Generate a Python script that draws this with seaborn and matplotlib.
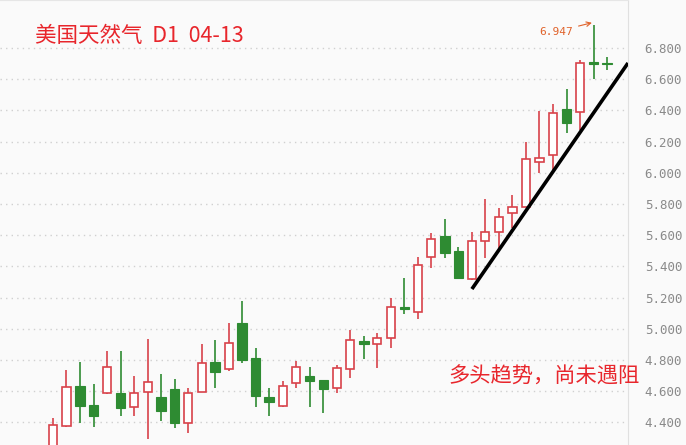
import numpy as np
import pandas as pd
import matplotlib
matplotlib.use("Agg")
import matplotlib.pyplot as plt
import seaborn as sns

# daily OHLC (oldest -> newest)
opens = [4.22, 4.377, 4.633, 4.512, 4.588, 4.588, 4.499, 4.595, 4.563, 4.614,
         4.396, 4.595, 4.787, 4.742, 5.037, 4.813, 4.563, 4.505, 4.653, 4.697,
         4.672, 4.620, 4.742, 4.922, 4.903, 4.941, 5.140, 5.108, 5.460, 5.595,
         5.499, 5.319, 5.563, 5.621, 5.742, 5.781, 6.069, 6.114, 6.409, 6.390,
         6.710, 6.705]
highs = [4.428, 4.736, 4.787, 4.646, 4.858, 4.858, 4.697, 4.935, 4.710, 4.678,
         4.620, 4.903, 4.928, 5.037, 5.178, 4.877, 4.620, 4.665, 4.794, 4.755,
         4.672, 4.768, 4.992, 4.954, 4.973, 5.197, 5.326, 5.460, 5.614, 5.704,
         5.524, 5.621, 5.832, 5.774, 5.858, 6.197, 6.396, 6.441, 6.537, 6.723,
         6.947, 6.742]
lows = [4.20, 4.371, 4.396, 4.371, 4.582, 4.441, 4.441, 4.294, 4.409, 4.364,
        4.332, 4.595, 4.620, 4.729, 4.781, 4.499, 4.441, 4.499, 4.620, 4.499,
        4.460, 4.588, 4.685, 4.806, 4.749, 4.877, 5.095, 5.063, 5.390, 5.454,
        5.319, 5.313, 5.454, 5.505, 5.646, 5.781, 6.000, 6.018, 6.255, 6.274,
        6.601, 6.659]
closes = [4.383, 4.627, 4.505, 4.441, 4.755, 4.492, 4.588, 4.659, 4.473, 4.396,
          4.588, 4.781, 4.723, 4.909, 4.800, 4.569, 4.531, 4.633, 4.755, 4.665,
          4.614, 4.749, 4.928, 4.903, 4.941, 5.140, 5.128, 5.409, 5.576, 5.486,
          5.326, 5.563, 5.621, 5.717, 5.781, 6.088, 6.095, 6.383, 6.319, 6.704,
          6.700, 6.695]

y_ticks = [4.4, 4.6, 4.8, 5.0, 5.2, 5.4, 5.6, 5.8, 6.0, 6.2, 6.4, 6.6, 6.8]
trend_x = [31.0, 42.55]
trend_y = [5.255, 6.704]
title_text = "美国天然气  D1  04-13"
note_text = "多头趋势，尚未遇阻"
peak_label = "6.947"

df = pd.DataFrame({"open": opens, "high": highs, "low": lows, "close": closes})
df["idx"] = np.arange(len(df))
df["up"] = df["close"] >= df["open"]

sns.set_style("white")
plt.rcParams["font.family"] = ["Noto Sans CJK SC", "DejaVu Sans"]

RED = "#d8424a"
GREEN = "#2e8b32"
BG = "#fafafa"

fig = plt.figure(figsize=(6.86, 4.45), dpi=100, facecolor=BG)
ax = fig.add_axes([0, 0, 628 / 686, 1])
ax.set_facecolor(BG)

# wicks
for up, col in [(True, RED), (False, GREEN)]:
    sub = df[df["up"] == up]
    ax.vlines(sub["idx"], sub["low"], sub["high"], color=col, lw=1.2, zorder=2)

# bodies
w = 0.6
up = df[df["up"]]
dn = df[~df["up"]]
ax.bar(up["idx"], (up["close"] - up["open"]).clip(lower=0.006), bottom=up["open"],
       width=w, facecolor="white", edgecolor=RED, linewidth=1.2, zorder=3)
ax.bar(dn["idx"], (dn["open"] - dn["close"]).clip(lower=0.012), bottom=dn["close"],
       width=w + 0.1, facecolor=GREEN, edgecolor=GREEN, linewidth=0.8, zorder=3)

# trend line
ax.plot(trend_x, trend_y, color="black", lw=2.6, solid_capstyle="butt", zorder=4)

ax.set_xlim(-3.92, 42.55)
ax.set_ylim(4.255, 7.108)
ax.set_yticks(y_ticks)
ax.yaxis.tick_right()
ax.set_yticklabels([f"{t:.3f}" for t in y_ticks], color="#8a8a8a", fontsize=9,
                   family=["DejaVu Sans Mono", "DejaVu Sans"])
ax.tick_params(axis="y", length=0, pad=12)
ax.set_xticks([])
ax.grid(axis="y", color="#d0d0d0", linestyle=(0, (1, 3)), lw=1)
for s in ["left", "bottom"]:
    ax.spines[s].set_visible(False)
ax.spines["top"].set_color("#e6e6e6")
ax.spines["right"].set_color("#e0e0e0")

# peak annotation
peak_i = int(df["high"].idxmax())
ax.annotate(peak_label, xy=(peak_i - 0.12, df["high"].max() + 0.015),
            xytext=(peak_i - 1.55, 6.905), color="#e0622a", fontsize=8,
            family=["DejaVu Sans Mono"], ha="right", va="center",
            arrowprops=dict(arrowstyle="->", color="#e0622a", lw=0.8,
                            shrinkA=2, shrinkB=0))

fig.text(35 / 686, 1 - 36 / 445, title_text, color="#e8262c", fontsize=15.5,
         ha="left", va="center")
fig.text(448 / 686, 1 - 377 / 445, note_text, color="#e8262c", fontsize=15.3,
         ha="left", va="center")

fig.savefig("out.png", dpi=100, facecolor=BG)
